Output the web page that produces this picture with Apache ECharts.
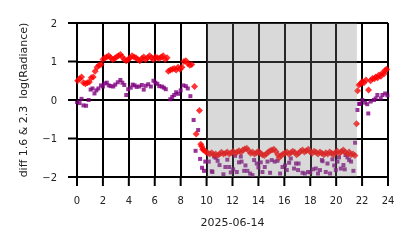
<!DOCTYPE html>
<html>
<head>
<meta charset="utf-8">
<script src="https://cdn.jsdelivr.net/npm/echarts@6/dist/echarts.min.js"></script>
<style>
html,body{margin:0;padding:0;background:#fff;}
#chart{width:414px;height:248px;}
</style>
</head>
<body>
<div id="chart"></div>
<script>
// hours of day (UTC) and values for the 1.6 µm - 2.3 µm log radiance difference
var redHours = [0.05,0.2,0.35,0.5,0.65,0.8,0.95,1.1,1.25,1.4,1.55,1.7,1.85,2.0,2.15,2.3,2.45,2.6,2.75,2.9,3.05,3.2,3.35,3.5,3.65,3.8,3.95,4.1,4.25,4.4,4.55,4.7,4.85,5.0,5.15,5.3,5.45,5.6,5.75,5.9,6.05,6.2,6.35,6.5,6.65,6.8,6.95,7.05,7.2,7.35,7.5,7.65,7.8,7.95,8.1,8.25,8.4,8.55,8.7,8.85,9.07,9.2,9.45,9.55,9.62,9.7,
 9.8,9.95,10.1,10.25,10.4,10.55,10.7,10.85,11.0,11.15,11.3,11.45,11.6,11.75,11.9,12.05,12.2,12.35,12.5,12.65,12.8,12.95,13.1,13.25,13.4,13.55,13.7,13.85,14.0,14.15,14.3,14.45,14.6,14.75,14.9,15.05,15.2,15.35,15.5,15.6,15.75,15.9,16.05,16.2,16.35,16.5,16.65,16.8,16.95,17.1,17.25,17.4,17.55,17.7,17.85,18.0,18.15,18.3,18.45,18.6,18.75,18.9,19.05,19.2,19.35,19.5,19.65,19.8,19.95,20.1,20.25,20.4,20.55,20.7,20.85,21.0,21.15,21.3,21.45,
 21.57,21.65,21.76,21.9,22.02,22.15,22.3,22.5,22.65,22.8,22.95,23.05,23.2,23.3,23.45,23.57,23.7,23.8,23.9];
var redValues = [0.5,0.55,0.6,0.45,0.42,0.45,0.47,0.58,0.6,0.75,0.85,0.9,0.92,1.05,1.1,1.12,1.15,1.1,1.05,1.08,1.12,1.15,1.18,1.12,1.05,1.02,1.05,1.1,1.15,1.12,1.1,1.05,1.02,1.08,1.12,1.05,1.1,1.15,1.1,1.05,1.12,1.1,1.08,1.12,1.15,1.05,1.1,0.75,0.78,0.8,0.82,0.78,0.85,0.8,0.85,1.0,1.02,0.95,0.9,0.92,0.35,-0.88,-0.27,-1.15,-1.2,-1.28,
 -1.3,-1.35,-1.38,-1.4,-1.37,-1.42,-1.4,-1.44,-1.4,-1.36,-1.4,-1.38,-1.35,-1.4,-1.37,-1.34,-1.38,-1.35,-1.32,-1.36,-1.3,-1.27,-1.25,-1.32,-1.38,-1.35,-1.4,-1.37,-1.33,-1.38,-1.42,-1.44,-1.4,-1.36,-1.32,-1.3,-1.28,-1.34,-1.42,-1.5,-1.44,-1.4,-1.38,-1.35,-1.4,-1.37,-1.33,-1.36,-1.42,-1.38,-1.33,-1.3,-1.35,-1.32,-1.28,-1.35,-1.38,-1.33,-1.36,-1.4,-1.35,-1.38,-1.42,-1.37,-1.4,-1.35,-1.38,-1.42,-1.36,-1.33,-1.38,-1.34,-1.3,-1.36,-1.4,-1.35,-1.42,-1.4,-1.44,
 -0.62,0.24,0.39,0.42,0.48,0.45,0.52,0.26,0.5,0.56,0.55,0.6,0.58,0.65,0.62,0.7,0.68,0.78,0.8];

var purpleHours = [0.0,0.2,0.35,0.5,0.7,0.9,1.05,1.2,1.35,1.5,1.65,1.85,2.0,2.15,2.3,2.45,2.6,2.8,2.95,3.15,3.35,3.5,3.65,3.8,3.95,4.15,4.3,4.45,4.6,4.8,5.0,5.15,5.3,5.5,5.7,5.9,6.05,6.2,6.35,6.55,6.7,6.85,7.2,7.35,7.5,7.65,7.8,8.0,8.2,8.4,8.55,8.75,9.0,9.15,9.35,9.5,9.65,9.8,
 9.9,10.17,10.4,10.45,10.58,10.7,10.85,11.0,11.3,11.45,11.6,11.75,11.87,12.05,12.2,12.33,12.5,12.64,12.7,12.9,13.0,13.15,13.36,13.54,13.67,13.87,14.0,14.18,14.31,14.49,14.7,14.9,15.03,15.26,15.47,15.67,15.86,16.05,16.19,16.37,16.5,16.75,16.9,17.06,17.1,17.4,17.58,17.83,18.0,18.2,18.43,18.6,18.75,18.9,18.95,19.2,19.33,19.53,19.71,19.85,19.97,20.1,20.22,20.36,20.56,20.66,20.72,20.87,21.0,21.15,21.33,21.46,
 21.64,21.77,21.84,22.02,22.23,22.4,22.48,22.66,22.92,23.05,23.18,23.44,23.57,23.78,23.95];
var purpleValues = [-0.05,-0.08,0.03,-0.14,-0.15,0.0,0.27,0.3,0.17,0.25,0.3,0.38,0.35,0.43,0.45,0.38,0.36,0.35,0.4,0.46,0.52,0.45,0.39,0.13,0.28,0.32,0.4,0.38,0.34,0.35,0.39,0.27,0.37,0.41,0.35,0.5,0.45,0.42,0.36,0.35,0.32,0.28,0.02,0.08,0.13,0.2,0.16,0.25,0.38,0.36,0.3,0.1,-0.52,-1.32,-0.78,-1.53,-1.76,-1.84,
 -1.6,-1.6,-1.85,-1.87,-1.47,-1.5,-1.58,-1.69,-1.93,-1.74,-1.55,-1.74,-1.88,-1.8,-1.45,-1.87,-1.62,-1.47,-1.6,-1.84,-1.7,-1.84,-1.91,-1.95,-1.56,-1.65,-1.75,-1.62,-1.87,-1.74,-1.6,-1.89,-1.56,-1.6,-1.58,-1.91,-1.74,-1.7,-1.82,-1.63,-1.52,-1.78,-1.65,-1.82,-1.65,-1.89,-1.91,-1.87,-1.88,-1.8,-1.78,-1.91,-1.82,-1.56,-1.59,-1.87,-1.65,-1.91,-1.54,-1.7,-1.82,-1.6,-1.49,-1.78,-1.69,-1.8,-1.43,-1.49,-1.56,-1.6,-1.84,-1.11,
 -0.26,-0.1,-0.1,0.0,-0.07,-0.11,-0.35,-0.04,0.0,0.04,0.13,0.04,0.13,0.17,0.12];

var nightStart = 10.0, nightEnd = 21.6;
var xTicks = [0,2,4,6,8,10,12,14,16,18,20,22,24];
var yTicks = [-2,-1,0,1,2];
var xTickLabels = ['0','2','4','6','8','10','12','14','16','18','20','22','24'];
var yTickLabels = ['\u22122','\u22121','0','1','2'];

function pairs(xs, ys){ return xs.map(function(x,i){ return [x, ys[i]]; }); }

var font = 'DejaVu Sans';
var xMin = xTicks[0], xMax = xTicks[xTicks.length-1];
var yMin = yTicks[0], yMax = yTicks[yTicks.length-1];

var chart = echarts.init(document.getElementById('chart'), null, {renderer:'canvas'});
chart.setOption({
  animation: false,
  backgroundColor: '#ffffff',
  grid: {left: 77, right: 26, top: 23, bottom: 71},
  xAxis: {
    type: 'value', min: xMin, max: xMax, interval: 2,
    name: '2025-06-14', nameLocation: 'middle', nameGap: 41,
    nameTextStyle: {fontFamily: font, fontSize: 11, color: '#222'},
    axisLine: {show: true, onZero: false, lineStyle: {color: '#000', width: 2}},
    axisTick: {show: false},
    axisLabel: {show: false},
    splitLine: {show: true, lineStyle: {color: '#000', width: 2}}
  },
  yAxis: {
    type: 'value', min: yMin, max: yMax, interval: 1,
    name: 'diff 1.6 & 2.3  log(Radiance)', nameLocation: 'middle', nameGap: 47,
    nameTextStyle: {fontFamily: font, fontSize: 11, color: '#222'},
    axisLine: {show: true, onZero: false, lineStyle: {color: '#000', width: 2}},
    axisTick: {show: false},
    axisLabel: {show: false},
    splitLine: {show: true, lineStyle: {color: '#000', width: 2}}
  },
  series: [
    {
      type: 'scatter', symbol: 'rect', symbolSize: 4,
      itemStyle: {color: '#800080'},
      data: pairs(purpleHours, purpleValues)
    },
    {
      type: 'scatter', symbol: 'diamond', symbolSize: 7,
      itemStyle: {color: '#ff0000'},
      data: pairs(redHours, redValues)
    },
    {
      type: 'scatter', z: 3, data: [],
      markArea: {
        z: 3, silent: true,
        itemStyle: {color: 'rgba(128,128,128,0.3)', borderWidth: 0},
        data: [[{xAxis: nightStart}, {xAxis: nightEnd}]]
      }
    },
    {
      // x-axis ticks and tick labels, positioned through the axis scale
      type: 'custom', silent: true, clip: false, z: 4,
      data: xTicks.map(function(v){ return [v, yMin]; }),
      encode: {x: 0, y: 1},
      renderItem: function(params, api){
        var p = api.coord([api.value(0), api.value(1)]);
        return {type: 'group', children: [
          {type: 'line', shape: {x1: p[0], y1: p[1], x2: p[0], y2: p[1] + 9},
           style: {stroke: '#000', lineWidth: 2}},
          {type: 'text', style: {x: p[0], y: p[1] + 24, text: xTickLabels[params.dataIndex],
           fill: '#222', fontFamily: font, fontSize: 10, align: 'center', verticalAlign: 'middle'}}
        ]};
      }
    },
    {
      // y-axis ticks and tick labels, positioned through the axis scale
      type: 'custom', silent: true, clip: false, z: 4,
      data: yTicks.map(function(v){ return [xMin, v]; }),
      encode: {x: 0, y: 1},
      renderItem: function(params, api){
        var p = api.coord([api.value(0), api.value(1)]);
        return {type: 'group', children: [
          {type: 'line', shape: {x1: p[0] - 9, y1: p[1], x2: p[0], y2: p[1]},
           style: {stroke: '#000', lineWidth: 2}},
          {type: 'text', style: {x: p[0] - 20, y: p[1] + 1, text: yTickLabels[params.dataIndex],
           fill: '#222', fontFamily: font, fontSize: 10, align: 'right', verticalAlign: 'middle'}}
        ]};
      }
    }
  ]
});
</script>
</body>
</html>
